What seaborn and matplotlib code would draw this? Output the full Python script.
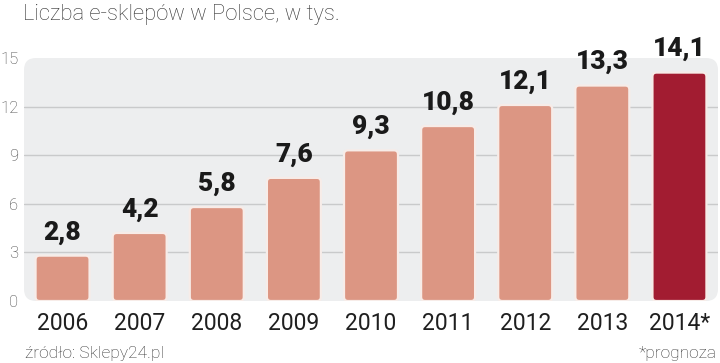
import matplotlib
matplotlib.use("Agg")
import matplotlib.pyplot as plt
from matplotlib.patches import FancyBboxPatch
import seaborn as sns
import pandas as pd

years = ["2006", "2007", "2008", "2009", "2010", "2011", "2012", "2013", "2014*"]
values = [2.8, 4.2, 5.8, 7.6, 9.3, 10.8, 12.1, 13.3, 14.1]
value_labels = ["2,8", "4,2", "5,8", "7,6", "9,3", "10,8", "12,1", "13,3", "14,1"]
y_ticks = [0, 3, 6, 9, 12, 15]
title = "Liczba e-sklepów w Polsce, w tys."
source = "źródło: Sklepy24.pl"
note = "*prognoza"

bar_color = "#DC9683"
forecast_color = "#A21C31"
panel_color = "#EDEEEF"
grid_color = "#C9CACB"

sns.set_theme(style="white")
plt.rcParams["font.family"] = ["Roboto", "DejaVu Sans"]

df = pd.DataFrame({"year": years, "value": values})
palette = [bar_color] * (len(years) - 1) + [forecast_color]

W, H = 720, 363
fig = plt.figure(figsize=(W / 100, H / 100), dpi=100)
ax_l, ax_r, ax_t, ax_b = 24, 718, 58, 301
ax = fig.add_axes([ax_l / W, 1 - ax_b / H, (ax_r - ax_l) / W, (ax_b - ax_t) / H])

sns.barplot(data=df, x="year", y="value", hue="year", palette=palette,
            legend=False, width=0.7, ax=ax, zorder=3)

ax.set_xlim(-0.5, len(years) - 0.5)
ax.set_ylim(0, 15)
ax.set_yticks(y_ticks)
ax.set_xlabel("")
ax.set_ylabel("")

# panel with rounded corners
ax.patch.set_visible(False)
aw, ah = ax_r - ax_l, ax_b - ax_t
r = 12
panel = FancyBboxPatch((0, 0), 1, 1, boxstyle=f"round,pad=0,rounding_size={r / aw}",
                       mutation_aspect=aw / ah, transform=ax.transAxes,
                       facecolor=panel_color, edgecolor="none", zorder=0)
ax.add_patch(panel)

# grid lines at inner ticks
ax.grid(axis="y", color=grid_color, linewidth=1.0, zorder=1)
ax.set_axisbelow(True)
gl = ax.yaxis.get_gridlines()
gl[0].set_visible(False)
gl[-1].set_visible(False)

# rounded bars
for p, c in zip(list(ax.patches[:len(years)]), palette):
    x0, y0 = p.get_x(), p.get_y()
    w, h = p.get_width(), p.get_height()
    p.set_visible(False)
    rb = 4
    fb = FancyBboxPatch((x0, y0), w, h,
                        boxstyle=f"round,pad=0,rounding_size={rb / aw * 9}",
                        mutation_aspect=(15 / ah) / (9 / aw),
                        facecolor=c, edgecolor="#F7ECE8", linewidth=1.6, zorder=3)
    ax.add_patch(fb)

for i, (v, lab) in enumerate(zip(values, value_labels)):
    ax.annotate(lab, (i, v), xytext=(0, 8), textcoords="offset points",
                ha="center", va="bottom", fontsize=19, fontweight="black",
                family=["Roboto", "DejaVu Sans"], color="#1a1a1a", zorder=5)

for s in ax.spines.values():
    s.set_visible(False)

ax.tick_params(axis="x", length=0, pad=8, labelsize=16.5, labelcolor="#1f1f1f")
ax.tick_params(axis="y", length=0, pad=4, labelsize=12, labelcolor="#444444")
for t in ax.get_yticklabels():
    t.set_fontweight("light")

fig.text(23 / W, 1 - 20 / H, title, ha="left", va="baseline", fontsize=15.8,
         fontweight="light", color="#333333")
fig.text(25 / W, 1 - 358 / H, source, ha="left", va="baseline", fontsize=12.5,
         fontweight="light", color="#333333")
fig.text(717 / W, 1 - 358 / H, note, ha="right", va="baseline", fontsize=12.5,
         fontweight="light", color="#333333")

fig.savefig("out.png", dpi=100)
